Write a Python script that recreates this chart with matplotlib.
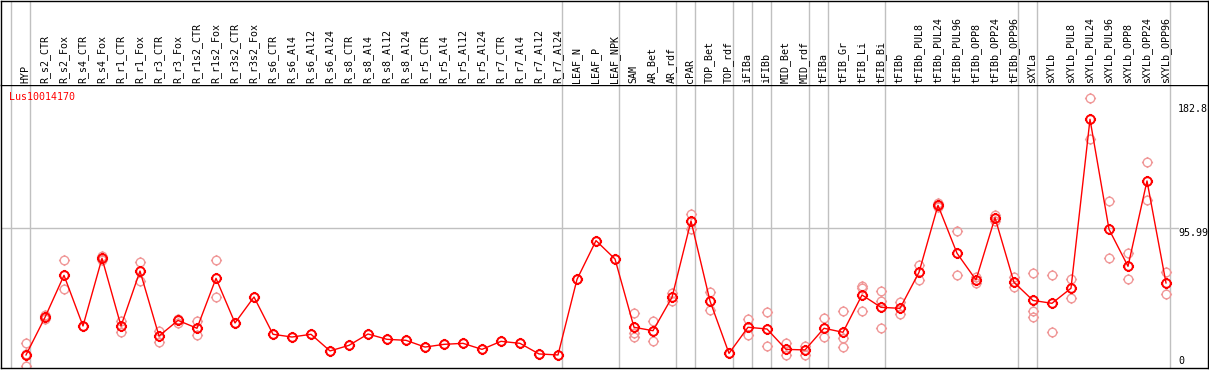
import numpy as np
import matplotlib
matplotlib.use("Agg")
import matplotlib.pyplot as plt
from matplotlib.path import Path

# ── data ────────────────────────────────────────────────────────────
samples = [
    "HYP", "R_s2_CTR", "R_s2_Fox", "R_s4_CTR", "R_s4_Fox", "R_r1_CTR", "R_r1_Fox",
    "R_r3_CTR", "R_r3_Fox", "R_r1s2_CTR", "R_r1s2_Fox", "R_r3s2_CTR", "R_r3s2_Fox",
    "R_s6_CTR", "R_s6_Al4", "R_s6_Al12", "R_s6_Al24", "R_s8_CTR", "R_s8_Al4",
    "R_s8_Al12", "R_s8_Al24", "R_r5_CTR", "R_r5_Al4", "R_r5_Al12", "R_r5_Al24",
    "R_r7_CTR", "R_r7_Al4", "R_r7_Al12", "R_r7_Al24", "LEAF_N", "LEAF_P", "LEAF_NPK",
    "SAM", "AR_Bet", "AR_rdf", "cPAR", "TOP_Bet", "TOP_rdf", "iFIBa", "iFIBb",
    "MID_Bet", "MID_rdf", "tFIBa", "tFIB_Gr", "tFIB_Li", "tFIB_Bi", "tFIBb",
    "tFIBb_PUL8", "tFIBb_PUL24", "tFIBb_PUL96", "tFIBb_OPP8", "tFIBb_OPP24",
    "tFIBb_OPP96", "sXYLa", "sXYLb", "sXYLb_PUL8", "sXYLb_PUL24", "sXYLb_PUL96",
    "sXYLb_OPP8", "sXYLb_OPP24", "sXYLb_OPP96",
]

means = [
    7.7, 33.9, 63.2, 27.9, 75.1, 27.9, 66.2, 20.9, 31.8, 26.3, 61.1, 30.0, 48.1,
    22.1, 20.2, 22.1, 10.5, 14.4, 22.3, 18.6, 17.9, 13.2, 15.1, 15.8, 11.6,
    17.2, 15.8, 8.4, 7.7, 60.4, 87.4, 74.6,
    27.0, 24.6, 47.9, 101.1, 45.3, 8.8, 27.0, 25.8, 11.6, 11.2,
    26.3, 23.5, 49.5, 40.9, 40.2,
    65.3, 112.0, 78.6, 60.0, 103.4, 58.3,
    45.7, 43.7, 54.2, 172.0, 95.3, 69.5, 129.0, 57.9,
]

replicates = [
    [15.8, 8.5, 0.0], [35.5, 33.0], [73.7, 53.5], [27.9], [76.9, 73.9],
    [31.6, 23.9], [72.3, 59.5], [24.6, 16.9], [32.8, 30.2], [31.1, 21.4],
    [74.1, 47.9], [30.0], [48.1],
    [22.1], [20.2], [22.1], [10.5], [14.4], [22.3], [18.6], [17.9], [13.2],
    [15.1], [15.8], [11.6], [17.2], [15.8], [8.4], [7.7], [60.4], [87.4], [74.6],
    [36.7, 22.8, 20.4], [31.1, 24.6, 17.2], [50.7, 45.5], [105.7, 95.3],
    [51.6, 39.0], [8.8], [32.8, 21.4], [37.4, 13.9], [16.0, 7.4], [14.2, 7.4],
    [33.5, 20.4], [38.3, 19.7, 13.2], [55.8, 54.2, 38.3], [52.3, 45.5, 26.3],
    [44.8, 36.0],
    [70.4, 59.7], [113.8, 111.1], [93.9, 63.1], [62.3, 57.6], [105.5, 101.3],
    [61.8, 55.3],
    [64.6, 38.6, 34.4], [63.2, 23.5], [60.4, 47.6], [186.6, 158.0],
    [115.0, 75.1], [78.8, 60.4], [142.0, 115.7], [65.5, 50.0],
]

# group separators sit just right of these sample indices
group_ends = [-1, 0, 28, 31, 34, 35, 37, 38, 39, 41, 42, 45, 52, 53, 60]

gene_id   = "Lus10014170"
scale_max = 182.8
scale_mid = 95.99

# ── layout (pixel based, 1209 x 370) ───────────────────────────────
W, H = 1209, 370
px0, step = 26, 19          # x pixel of first sample, spacing
y0_px, per_unit = 366, 1.4345
head_px = 85

fig = plt.figure(figsize=(W / 100, H / 100), dpi=100)
ax = fig.add_axes([1 / W, 2 / H, 1207 / W, (368 - head_px) / H])
axh = fig.add_axes([1 / W, (H - head_px) / H, 1207 / W, (head_px - 1) / H])

xlim = ((1 - px0) / step, (1208 - px0) / step)
for a in (ax, axh):
    a.set_xlim(*xlim)
    a.set_xticks([])
    a.set_yticks([])
    for sp in a.spines.values():
        sp.set_color("black")
        sp.set_linewidth(1.0)
axh.set_ylim(0, 1)
axh.spines["bottom"].set_visible(False)
ax.set_ylim((y0_px - 368) / per_unit, (y0_px - head_px) / per_unit)

mono = "DejaVu Sans Mono"
gray = "#c0c0c0"

# group separators across header and plot
for g in group_ends:
    xs = g + 4 / step
    ax.axvline(xs, color=gray, lw=1.0, zorder=1)
    axh.axvline(xs, color=gray, lw=1.0, zorder=1)

# mid scale line
x_lab = (1178 - px0) / step
ax.plot([xlim[0], x_lab], [scale_mid, scale_mid], color=gray, lw=1.0, zorder=1)

# sample labels
for i, name in enumerate(samples):
    axh.text(i - 0.03, 2 / head_px, name, rotation=90, ha="center", va="bottom",
             family=mono, fontsize=7.2, color="black")

# marker: circle with four small ticks
circ = Path.unit_circle()
ticks = [Path([(0, 1), (0, 1.3)]), Path([(0, -1), (0, -1.3)]),
         Path([(1, 0), (1.3, 0)]), Path([(-1, 0), (-1.3, 0)])]
marker = Path.make_compound_path(circ, *ticks)

x = np.arange(len(samples))
rep_x = np.concatenate([[i] * len(r) for i, r in enumerate(replicates)])
rep_y = np.concatenate(replicates)

ax.plot(rep_x, rep_y, ls="none", marker=marker, ms=8, mfc="none",
        mec="#f09898", mew=1.0, zorder=2)
ax.plot(x, means, color="#ff0000", lw=1.0, zorder=3)
ax.plot(x, means, ls="none", marker=marker, ms=8, mfc="none",
        mec="#ff0000", mew=1.4, zorder=4)

# scale labels on the right
ax.text(x_lab, scale_max, f"{scale_max}", ha="left", va="top", family=mono,
        fontsize=7.2, color="black")
ax.text(x_lab, scale_mid, f"{scale_mid}", ha="left", va="top", family=mono,
        fontsize=7.2, color="black")
ax.text(x_lab, 0, "0", ha="left", va="bottom", family=mono,
        fontsize=7.2, color="black")

ax.text(8 / 1207, 1 - 12 / (368 - head_px), gene_id, transform=ax.transAxes,
        ha="left", va="center", family=mono, fontsize=7.2, color="#ff0000")

fig.savefig("out.png", dpi=100)
